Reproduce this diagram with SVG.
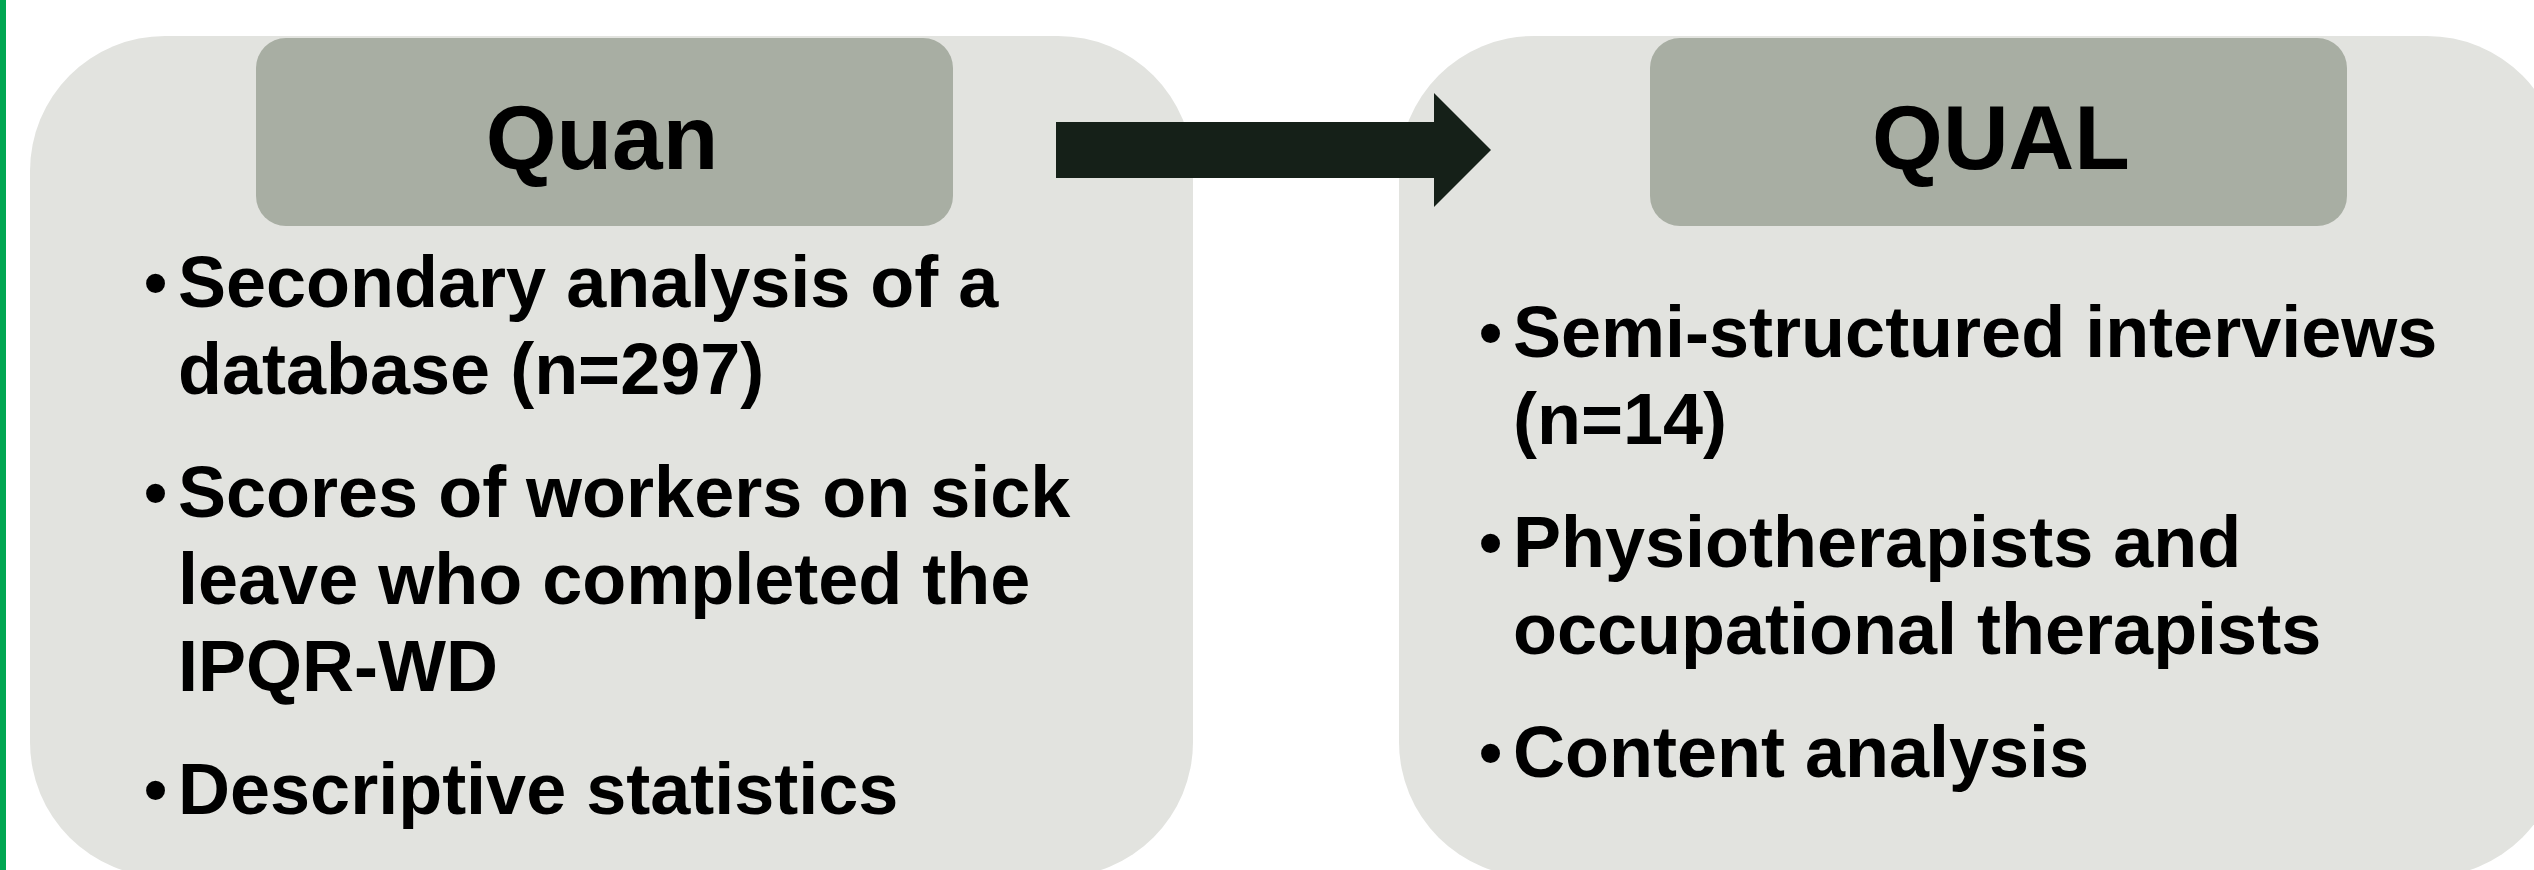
<svg xmlns="http://www.w3.org/2000/svg" width="2534" height="870" viewBox="0 0 2534 870">
<style>
.panel{fill:#E2E3DF}
.head{fill:#A8AEA3}
.htxt{font-family:"Liberation Sans",Arial,sans-serif;font-weight:bold;font-size:91px;fill:#000;text-anchor:middle}
.btxt{font-family:"Liberation Sans",Arial,sans-serif;font-weight:bold;font-size:72px;fill:#000}
.bul{font-family:"Liberation Sans",Arial,sans-serif;font-weight:bold;font-size:66px;fill:#000}
</style>
<rect x="0" y="0" width="2534" height="870" fill="#FFFFFF"/>
<rect x="0" y="0" width="6" height="870" fill="#00A651"/>
<g id="quan">
<rect class="panel" x="30" y="36" width="1163" height="841" rx="135" ry="135"/>
<rect class="head" x="256" y="38" width="697" height="188" rx="30" ry="30"/>
<text class="htxt" x="602" y="169">Quan</text>
<text class="bul" x="144" y="305">•</text>
<text class="btxt" x="178" y="307">Secondary analysis of a</text>
<text class="btxt" x="178" y="394">database (n=297)</text>
<text class="bul" x="144" y="515">•</text>
<text class="btxt" x="178" y="517">Scores of workers on sick</text>
<text class="btxt" x="178" y="604">leave who completed the</text>
<text class="btxt" x="178" y="691">IPQR-WD</text>
<text class="bul" x="144" y="812">•</text>
<text class="btxt" x="178" y="814">Descriptive statistics</text>
</g>
<g id="qual">
<rect class="panel" x="1399" y="36" width="1163" height="841" rx="135" ry="135"/>
<rect class="head" x="1650" y="38" width="697" height="188" rx="30" ry="30"/>
<text class="htxt" x="2001" y="169">QUAL</text>
<text class="bul" x="1479" y="355">•</text>
<text class="btxt" x="1513" y="357">Semi-structured interviews</text>
<text class="btxt" x="1513" y="444">(n=14)</text>
<text class="bul" x="1479" y="565">•</text>
<text class="btxt" x="1513" y="567">Physiotherapists and</text>
<text class="btxt" x="1513" y="654">occupational therapists</text>
<text class="bul" x="1479" y="775">•</text>
<text class="btxt" x="1513" y="777">Content analysis</text>
</g>
<g id="connectors">
<polygon points="1056,122 1434,122 1434,93 1491,150 1434,207 1434,178 1056,178" fill="#152018"/>
</g>
</svg>
